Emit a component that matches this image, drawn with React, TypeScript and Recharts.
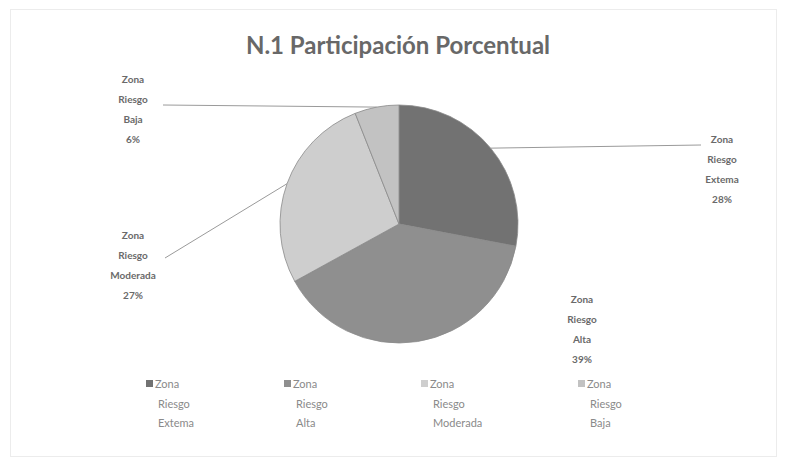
import React from "react";
import { PieChart, Pie, Cell, Legend } from "recharts";

const categories = ["Zona Riesgo Extema", "Zona Riesgo Alta", "Zona Riesgo Moderada", "Zona Riesgo Baja"];
const labelLines = [
  ["Zona", "Riesgo", "Extema"],
  ["Zona", "Riesgo", "Alta"],
  ["Zona", "Riesgo", "Moderada"],
  ["Zona", "Riesgo", "Baja"],
];
const values = [28, 39, 27, 6];
const percentLabels = ["28%", "39%", "27%", "6%"];

const COLORS = ["#727272", "#8f8f8f", "#cecece", "#c2c2c2"];
const FONT = "Lato, 'Open Sans', sans-serif";

// label block centres (relative to pie centre) and leader end points, as Excel placed them
const LABEL_POS = [
  { dx: 323, dy: -81, line: { dx: 302, dy: -79 } },
  { dx: 183, dy: 79, line: null },
  { dx: -266, dy: 15, line: { dx: -234, dy: 34 } },
  { dx: -266, dy: -141, line: { dx: -236, dy: -119 } },
];

const data = categories.map((name, i) => ({ name, value: values[i] }));

const RADIAN = Math.PI / 180;

const renderLabel = (props: any) => {
  const { cx, cy, midAngle, outerRadius, index } = props;
  const pos = LABEL_POS[index];
  const lx = cx + pos.dx;
  const ly = cy + pos.dy;
  const sx = cx + outerRadius * Math.cos(-midAngle * RADIAN);
  const sy = cy + outerRadius * Math.sin(-midAngle * RADIAN);
  const lines = [...labelLines[index], percentLabels[index]];
  return (
    <g key={`lbl-${index}`}>
      {pos.line && (
        <line x1={sx} y1={sy} x2={cx + pos.line.dx} y2={cy + pos.line.dy} stroke="#9a9a9a" strokeWidth={1} />
      )}
      <text x={lx} y={ly} textAnchor="middle" fill="#6a6a6a" fontFamily={FONT} fontSize={10} fontWeight={700}>
        {lines.map((t, k) => (
          <tspan key={k} x={lx} dy={k === 0 ? 0 : 20}>
            {t}
          </tspan>
        ))}
      </text>
    </g>
  );
};

const LEGEND_X = [146, 284, 421, 578];

const renderLegend = () => (
  <div style={{ position: "relative", width: 785, height: 60 }}>
    {categories.map((c, i) => (
      <div
        key={c}
        style={{
          position: "absolute",
          left: LEGEND_X[i],
          top: 0,
          display: "flex",
          alignItems: "flex-start",
          fontFamily: FONT,
          fontSize: 11,
          color: "#8a8a8a",
          lineHeight: "19.5px",
        }}
      >
        <span style={{ display: "inline-block", width: 7, height: 7, background: COLORS[i], marginTop: 6, marginRight: 2 }} />
        <span>
          {labelLines[i].map((t, k) => (
            <div key={k} style={{ paddingLeft: k === 0 ? 0 : 3 }}>{t}</div>
          ))}
        </span>
      </div>
    ))}
  </div>
);

export default function App() {
  return (
    <div style={{ position: "absolute", left: 0, top: 0, width: 785, height: 466, background: "#fff" }}>
      <div
        style={{
          position: "absolute",
          left: 10,
          top: 9,
          width: 767,
          height: 448,
          border: "1px solid #ececec",
          boxSizing: "border-box",
        }}
      />
      <div
        style={{
          position: "absolute",
          left: 0,
          top: 29,
          width: 796,
          textAlign: "center",
          fontFamily: FONT,
          fontWeight: 700,
          fontSize: 24,
          color: "#686868",
          lineHeight: "32px",
        }}
      >
        N.1 Participación Porcentual
      </div>
      <PieChart width={785} height={466} style={{ position: "absolute", left: 0, top: 0 }}>
        <Pie
          data={data}
          dataKey="value"
          nameKey="name"
          cx={394}
          cy={219}
          outerRadius={119}
          startAngle={90}
          endAngle={-270}
          stroke="#8a8a8a"
          strokeWidth={0.8}
          label={renderLabel}
          labelLine={false}
          isAnimationActive={false}
        >
          {data.map((d, i) => (
            <Cell key={d.name} fill={COLORS[i]} />
          ))}
        </Pie>
        <Legend
          content={renderLegend}
          wrapperStyle={{ position: "absolute", left: 0, top: 374, width: 785, height: 60 }}
        />
      </PieChart>
    </div>
  );
}
